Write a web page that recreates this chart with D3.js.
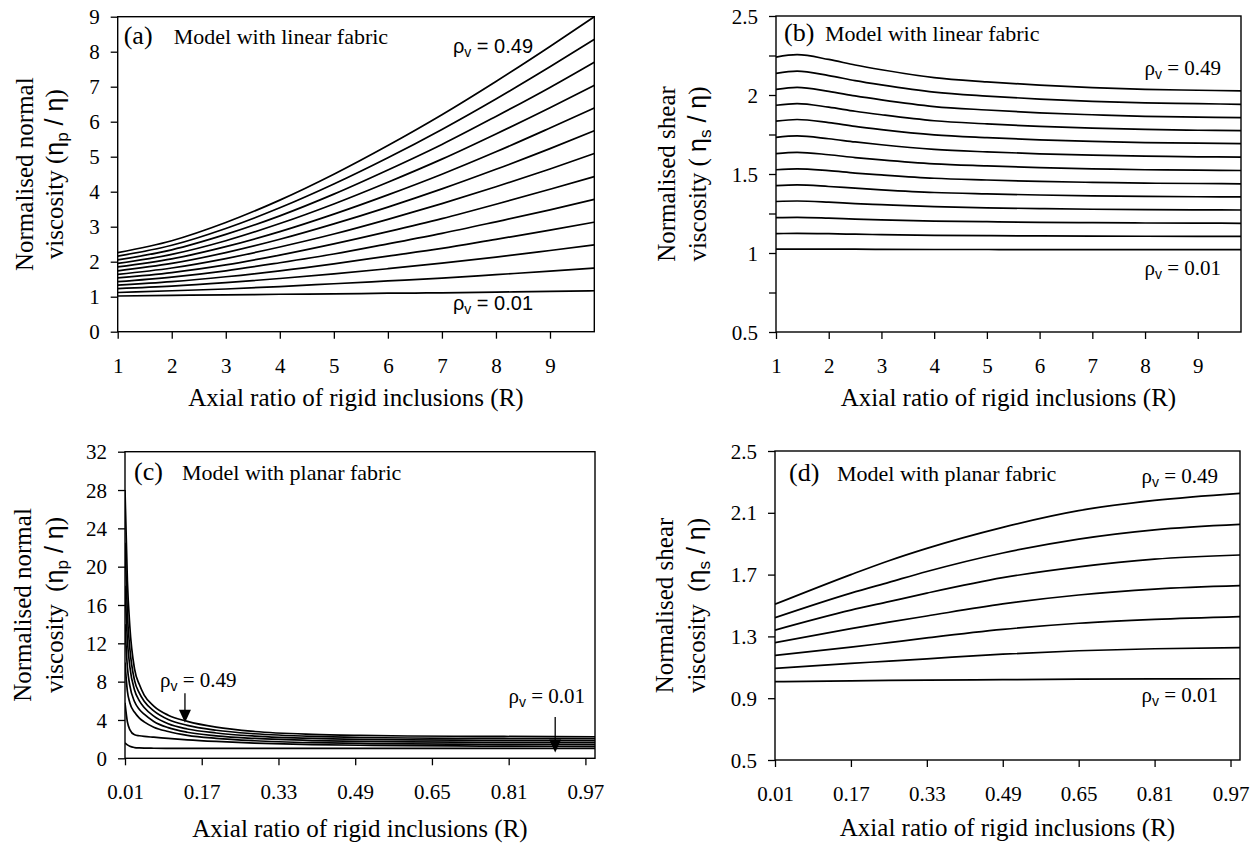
<!DOCTYPE html>
<html><head><meta charset="utf-8">
<script src="https://cdn.jsdelivr.net/npm/d3@7"></script>
<style>body{margin:0;background:#fff} text{white-space:pre}</style>
</head><body>
<svg id="chart" width="1258" height="844" style="background:#fff"></svg>
<script>
// ---------------- DATA ----------------
const rhoLinear = [0.01,0.05,0.09,0.13,0.17,0.21,0.25,0.29,0.33,0.37,0.41,0.45,0.49];
const rhoPlanar = [0.01,0.09,0.17,0.25,0.33,0.41,0.49];

// (a) normal viscosity, linear fabric
const axialRatioA = [1,2,3,4,5,6,7,8,9,9.82];
const normalLinear = [
  [1.02,1.04,1.05,1.07,1.08,1.10,1.11,1.13,1.15,1.17],
  [1.12,1.17,1.22,1.29,1.37,1.45,1.53,1.63,1.73,1.82],
  [1.23,1.30,1.40,1.52,1.65,1.80,1.96,2.13,2.32,2.48],
  [1.33,1.43,1.57,1.74,1.94,2.16,2.38,2.64,2.90,3.13],
  [1.43,1.56,1.74,1.97,2.22,2.51,2.81,3.14,3.48,3.78],
  [1.54,1.69,1.91,2.19,2.51,2.86,3.23,3.64,4.07,4.43],
  [1.64,1.82,2.09,2.42,2.79,3.21,3.66,4.14,4.65,5.09],
  [1.74,1.95,2.26,2.64,3.08,3.56,4.08,4.64,5.23,5.74],
  [1.85,2.08,2.43,2.86,3.36,3.91,4.50,5.14,5.82,6.39],
  [1.95,2.21,2.60,3.09,3.65,4.27,4.93,5.65,6.40,7.04],
  [2.05,2.34,2.78,3.31,3.93,4.62,5.35,6.15,6.98,7.70],
  [2.16,2.47,2.95,3.54,4.22,4.97,5.78,6.65,7.57,8.35],
  [2.26,2.60,3.12,3.76,4.50,5.32,6.20,7.15,8.15,9.00]
];

// (b) shear viscosity, linear fabric
const axialRatioB = [1,1.4,2,2.5,3,4,5,6,7,8,9,9.82];
const shearLinear = [
  [1.025,1.025,1.024,1.024,1.023,1.022,1.022,1.021,1.021,1.021,1.021,1.021],
  [1.123,1.124,1.122,1.119,1.116,1.112,1.110,1.108,1.107,1.106,1.105,1.105],
  [1.224,1.226,1.221,1.215,1.210,1.202,1.198,1.194,1.192,1.190,1.189,1.188],
  [1.326,1.329,1.322,1.313,1.306,1.293,1.286,1.281,1.277,1.275,1.273,1.272],
  [1.426,1.431,1.421,1.410,1.400,1.383,1.374,1.367,1.362,1.358,1.356,1.355],
  [1.527,1.533,1.521,1.506,1.494,1.473,1.462,1.453,1.447,1.442,1.440,1.438],
  [1.629,1.637,1.622,1.604,1.589,1.564,1.551,1.540,1.533,1.527,1.524,1.522],
  [1.732,1.741,1.723,1.703,1.685,1.656,1.640,1.628,1.619,1.613,1.609,1.607],
  [1.835,1.845,1.825,1.801,1.781,1.748,1.730,1.716,1.706,1.699,1.695,1.692],
  [1.935,1.946,1.923,1.897,1.875,1.837,1.817,1.801,1.790,1.782,1.777,1.774],
  [2.035,2.048,2.023,1.994,1.969,1.927,1.905,1.887,1.875,1.865,1.860,1.857],
  [2.137,2.151,2.123,2.091,2.064,2.018,1.993,1.974,1.960,1.950,1.945,1.941],
  [2.240,2.255,2.225,2.190,2.160,2.110,2.083,2.062,2.047,2.036,2.030,2.026]
];

// (c) normal viscosity, planar fabric
const axialRatioC = [0.01,0.015,0.02,0.03,0.04,0.05,0.07,0.1,0.14,0.2,0.28,0.4,0.5,0.6,0.7,0.8,0.9,0.99];
const normalPlanar = [
  [1.6,1.4,1.25,1.12,1.08,1.06,1.05,1.04,1.04,1.04,1.035,1.035,1.03,1.03,1.03,1.03,1.03,1.03],
  [5.8,3.8,3.0,2.45,2.35,2.28,2.2,2.08,1.93,1.76,1.59,1.43,1.36,1.32,1.29,1.27,1.26,1.25],
  [10.0,7.0,5.8,4.8,4.2,3.8,3.25,2.8,2.4,2.08,1.83,1.63,1.55,1.5,1.48,1.46,1.455,1.45],
  [14.0,9.5,7.6,5.9,5.1,4.6,3.85,3.2,2.72,2.35,2.07,1.85,1.76,1.71,1.68,1.66,1.655,1.65],
  [18.0,12.3,9.6,7.1,6.0,5.3,4.4,3.6,3.06,2.64,2.32,2.07,1.97,1.92,1.89,1.87,1.86,1.85],
  [22.5,15.0,11.5,8.1,6.8,5.95,4.95,4.05,3.44,2.93,2.56,2.28,2.17,2.12,2.09,2.07,2.06,2.05],
  [28.0,18.5,13.8,9.3,7.7,6.6,5.45,4.5,3.86,3.25,2.8,2.5,2.39,2.33,2.3,2.28,2.26,2.25]
];

// (d) shear viscosity, planar fabric
const axialRatioD = [0.01,0.17,0.25,0.33,0.49,0.65,0.81,0.99];
const shearPlanar = [
  [1.007,1.012,1.015,1.017,1.020,1.023,1.025,1.026],
  [1.093,1.125,1.140,1.155,1.185,1.207,1.220,1.227],
  [1.177,1.230,1.260,1.290,1.345,1.385,1.410,1.428],
  [1.259,1.350,1.392,1.432,1.510,1.568,1.606,1.628],
  [1.341,1.470,1.525,1.580,1.680,1.750,1.800,1.827],
  [1.421,1.580,1.650,1.720,1.840,1.930,1.990,2.025],
  [1.508,1.700,1.790,1.870,2.006,2.114,2.180,2.226]
];

// tick values
const ticksA_x = [1,2,3,4,5,6,7,8,9];
const ticksA_y = [0,1,2,3,4,5,6,7,8,9];
const ticksB_y = [0.5,0.75,1,1.25,1.5,1.75,2,2.25,2.5];
const ticksC_x = [0.01,0.17,0.33,0.49,0.65,0.81,0.97];
const ticksC_y = [0,4,8,12,16,20,24,28,32];
const ticksD_y = [0.5,0.9,1.3,1.7,2.1,2.5];

// ---------------- DRAWING ----------------
const SERIF = "'Liberation Serif','Times New Roman',serif";
const SANS = "'Liberation Sans',Arial,sans-serif";
const ETA = "\u03B7", RHO = "\u03C1";
const svg = d3.select("#chart");

function addText(parent, x, y, segs, o) {
  const t = parent.append("text").attr("x", x).attr("y", y)
    .attr("font-family", o.family).attr("font-size", o.size)
    .attr("text-anchor", o.anchor || "start").attr("fill", "#000");
  if (o.rotate) t.attr("transform", `rotate(-90 ${x} ${y})`);
  segs.forEach(s => {
    const sp = t.append("tspan").text(s.t);
    if (s.family) sp.attr("font-family", s.family);
    if (s.size) sp.attr("font-size", s.size);
    if (s.dy) sp.attr("dy", s.dy);
  });
  return t;
}

function rhoSegs(val, family) {
  return [{t: RHO, family: family}, {t: "v", size: 14, dy: 4, family: SANS}, {t: " = " + val, dy: -4}];
}

function panel(c) {
  const x = d3.scaleLinear().domain(c.xDomain).range(c.xRange);
  const y = d3.scaleLinear().domain(c.yDomain).range(c.yRange);
  const g = svg.append("g");
  const clipId = "clip" + c.id;
  svg.append("clipPath").attr("id", clipId).append("rect")
    .attr("x", c.xRange[0]).attr("y", c.yRange[1])
    .attr("width", c.xRange[1] - c.xRange[0]).attr("height", c.yRange[0] - c.yRange[1]);

  const line = d3.line().x((d, i) => x(c.r[i])).y(d => y(d)).curve(d3.curveMonotoneX);
  g.append("g").attr("clip-path", `url(#${clipId})`)
    .selectAll("path").data(c.series).join("path")
    .attr("d", line).attr("fill", "none").attr("stroke", "#000").attr("stroke-width", 1.7);

  const xa = g.append("g").attr("transform", `translate(0,${c.yRange[0]})`)
    .call(d3.axisBottom(x).tickValues(c.xTicks).tickFormat(c.xFmt).tickSize(7).tickSizeOuter(0));
  xa.select(".domain").remove();
  xa.selectAll("line").attr("stroke", "#000").attr("stroke-width", 1.3);
  xa.selectAll("text").attr("y", 41).attr("dy", 0)
    .attr("font-family", SERIF).attr("font-size", 21).attr("fill", "#000");

  const ya = g.append("g").attr("transform", `translate(${c.xRange[0]},0)`)
    .call(d3.axisLeft(y).tickValues(c.yTicks).tickFormat(c.yFmt).tickSize(7).tickPadding(11).tickSizeOuter(0));
  ya.select(".domain").remove();
  ya.selectAll("line").attr("stroke", "#000").attr("stroke-width", 1.3);
  ya.selectAll("text").attr("dy", "0.34em")
    .attr("font-family", SERIF).attr("font-size", 21).attr("fill", "#000");

  g.append("rect").attr("x", c.xRange[0]).attr("y", c.yRange[1])
    .attr("width", c.xRange[1] - c.xRange[0]).attr("height", c.yRange[0] - c.yRange[1])
    .attr("fill", "none").attr("stroke", "#000").attr("stroke-width", 1.4);

  // panel title
  addText(g, c.xRange[0] + c.letterDx, c.yRange[1] + c.titleDy, [{t: c.letter}], {family: SERIF, size: 26});
  addText(g, c.xRange[0] + c.titleDx, c.yRange[1] + c.titleDy, [{t: c.title}], {family: SERIF, size: 22});

  // axis titles
  const xc = (c.xRange[0] + c.xRange[1]) / 2;
  addText(g, xc, c.xTitleY, [{t: "Axial ratio of rigid inclusions (R)"}], {family: SERIF, size: 25, anchor: "middle"});
  const yc = (c.yRange[0] + c.yRange[1]) / 2;
  addText(g, c.yTitleX[0], yc, [{t: c.yTitle1}], {family: SERIF, size: 25, anchor: "middle", rotate: true});
  addText(g, c.yTitleX[1], yc, [
    {t: c.yTitle2pre},
    {t: ETA, family: SANS},
    {t: c.sub, family: SANS, size: 17, dy: 5},
    {t: " / " + ETA, family: SANS, dy: -5},
    {t: ")"}
  ], {family: SERIF, size: 25, anchor: "middle", rotate: true});

  // rho labels
  c.labels.forEach(L => {
    addText(g, L.x, L.y, rhoSegs(L.val, c.labelFamily), {family: c.labelFamily, size: c.labelSize, anchor: L.anchor});
  });

  // arrows
  (c.arrows || []).forEach(A => {
    const ax = x(A.r), y0 = y(A.from), y1 = y(A.to);
    g.append("line").attr("x1", ax).attr("x2", ax).attr("y1", y0).attr("y2", y1 - 10)
      .attr("stroke", "#000").attr("stroke-width", 1.3);
    g.append("path").attr("d", `M${ax - 6},${y1 - 13}L${ax + 6},${y1 - 13}L${ax},${y1}Z`).attr("fill", "#000");
  });
}

panel({
  id: "a", xDomain: [1, 9.82], xRange: [117.7, 594.3], yDomain: [0, 9], yRange: [331.7, 16.7],
  r: axialRatioA, series: normalLinear, xTicks: ticksA_x, xFmt: d3.format("d"),
  yTicks: ticksA_y, yFmt: d3.format("d"),
  letter: "(a)", title: "Model with linear fabric", letterDx: 6, titleDx: 56, titleDy: 27,
  xTitleY: 406, yTitleX: [33, 63], yTitle1: "Normalised normal", yTitle2pre: "viscosity (", sub: "p",
  labelFamily: SANS, labelSize: 20,
  labels: [{x: 533, y: 53, val: "0.49", anchor: "end"}, {x: 533, y: 310, val: "0.01", anchor: "end"}]
});

panel({
  id: "b", xDomain: [1, 9.82], xRange: [776, 1241], yDomain: [0.5, 2.5], yRange: [332, 16],
  r: axialRatioB, series: shearLinear, xTicks: ticksA_x, xFmt: d3.format("d"),
  yTicks: ticksB_y, yFmt: d => (Math.abs(d * 2 - Math.round(d * 2)) < 1e-9 ? d3.format("")(d) : ""),
  letter: "(b)", title: "Model with linear fabric", letterDx: 8, titleDx: 49, titleDy: 25,
  xTitleY: 406, yTitleX: [675, 706], yTitle1: "Normalised shear", yTitle2pre: "viscosity ( ", sub: "s",
  labelFamily: SERIF, labelSize: 21,
  labels: [{x: 1221, y: 75, val: "0.49", anchor: "end"}, {x: 1221, y: 275, val: "0.01", anchor: "end"}]
});

panel({
  id: "c", xDomain: [0.01, 0.99], xRange: [125, 595], yDomain: [0, 32], yRange: [758.3, 451.7],
  r: axialRatioC, series: normalPlanar, xTicks: ticksC_x, xFmt: d3.format(".2f"),
  yTicks: ticksC_y, yFmt: d3.format("d"),
  letter: "(c)", title: "Model with planar fabric", letterDx: 9, titleDx: 57, titleDy: 28,
  xTitleY: 837, yTitleX: [31, 63], yTitle1: "Normalised normal", yTitle2pre: "viscosity  (", sub: "p",
  labelFamily: SERIF, labelSize: 21,
  labels: [{x: 160, y: 687, val: "0.49", anchor: "start"}, {x: 585, y: 703, val: "0.01", anchor: "end"}],
  arrows: [{r: 0.135, from: 6.8, to: 3.7}, {r: 0.907, from: 4.3, to: 0.6}]
});

panel({
  id: "d", xDomain: [0.01, 0.99], xRange: [775, 1240], yDomain: [0.5, 2.5], yRange: [760, 451],
  r: axialRatioD, series: shearPlanar, xTicks: ticksC_x, xFmt: d3.format(".2f"),
  yTicks: ticksD_y, yFmt: d3.format(".1f"),
  letter: "(d)", title: "Model with planar fabric", letterDx: 14, titleDx: 62, titleDy: 30,
  xTitleY: 836, yTitleX: [673, 705], yTitle1: "Normalised shear", yTitle2pre: "viscosity  (", sub: "s",
  labelFamily: SERIF, labelSize: 21,
  labels: [{x: 1218, y: 483, val: "0.49", anchor: "end"}, {x: 1218, y: 702, val: "0.01", anchor: "end"}]
});
</script>
</body></html>
